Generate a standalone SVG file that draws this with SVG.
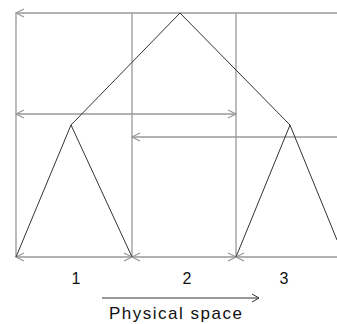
<svg xmlns="http://www.w3.org/2000/svg" width="337" height="324" viewBox="0 0 337 324">
<style>
.g{stroke:#999;stroke-width:1.3;fill:none}
.k{stroke:#333;stroke-width:1;fill:none}
.t{font-family:"Liberation Sans",Arial,sans-serif;font-size:16px;fill:#111}
.h{stroke:#999;stroke-width:1.2;fill:none}
</style>
<rect width="337" height="324" fill="#fff"/>
<g id="connectors">
<line class="g" x1="16" y1="13" x2="16" y2="257"/>
<line class="g" x1="132" y1="13" x2="132" y2="257"/>
<line class="g" x1="236" y1="13" x2="236" y2="257"/>
<line class="g" x1="16" y1="13" x2="337" y2="13"/>
<line class="g" x1="16" y1="114" x2="236" y2="114"/>
<line class="g" x1="132" y1="137" x2="337" y2="137"/>
<line class="g" x1="16" y1="257" x2="337" y2="257"/>
<path class="h" d="M24,9 L16,13 L24,17"/>
<path class="h" d="M24,110 L16,114 L24,118"/>
<path class="h" d="M228,110 L236,114 L228,118"/>
<path class="h" d="M140,133 L132,137 L140,141"/>
<path class="h" d="M24,253 L16,257 L24,261"/>
<path class="h" d="M124,253 L132,257 L124,261 M140,253 L132,257 L140,261"/>
<path class="h" d="M228,253 L236,257 L228,261 M244,253 L236,257 L244,261"/>
<line class="k" x1="180" y1="13" x2="71" y2="125"/>
<line class="k" x1="180" y1="13" x2="290" y2="125"/>
<line class="k" x1="102" y1="298" x2="259" y2="298"/>
<path class="k" d="M252,294 L259,298 L252,302"/>
</g>
<g id="tree1"><polyline class="k" points="16,257 71,125 132,257"/></g>
<g id="tree3"><polyline class="k" points="236,257 290,125 337,240"/></g>
<g id="labels">
<text class="t" x="76" y="284" text-anchor="middle">1</text>
<text class="t" x="187" y="284" text-anchor="middle">2</text>
<text class="t" x="284" y="284" text-anchor="middle">3</text>
<text class="t" x="109" y="319" textLength="133" lengthAdjust="spacing" style="font-size:17px">Physical space</text>
</g>
</svg>
